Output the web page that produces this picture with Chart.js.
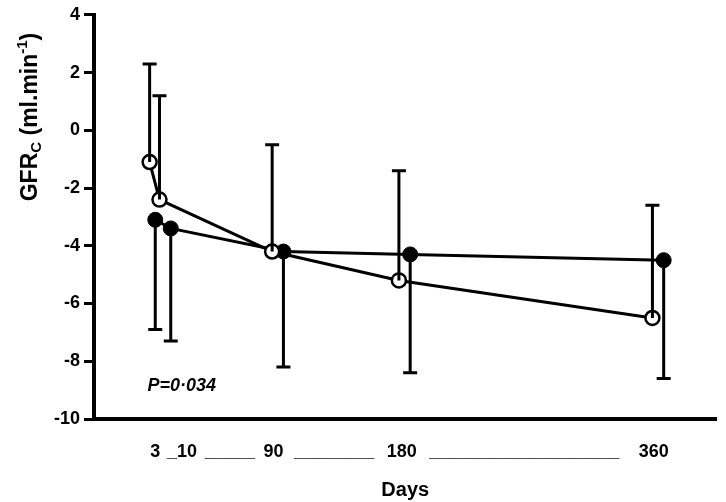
<!DOCTYPE html>
<html>
<head>
<meta charset="utf-8">
<script src="https://cdn.jsdelivr.net/npm/chart.js@4.4.0/dist/chart.umd.min.js"></script>
<style>
  html, body { margin: 0; padding: 0; background: #fff; }
</style>
</head>
<body>
<canvas id="chart" width="726" height="502"></canvas>
<script>
// values
const days = [3, 10, 90, 180, 360];
const filledDays = [7, 18, 98, 188, 368]; // the filled series is drawn a little to the right
const openMeans = [-1.1, -2.4, -4.2, -5.2, -6.5];
const openUpper = [2.3, 1.2, -0.5, -1.4, -2.6];
const filledMeans = [-3.1, -3.4, -4.2, -4.3, -4.5];
const filledLower = [-6.9, -7.3, -8.2, -8.4, -8.6];

const yTicks = [4, 2, 0, -2, -4, -6, -8, -10];
const xTickPos = [7, 26, 60, 91, 134, 182, 269, 361];
const xTickLabels = ['3', '_10', '_____', '90', '________', '180', '___________________', '360'];

const FONT = '"Liberation Sans", Arial, Helvetica, sans-serif';

const errorBars = {
  id: 'errorBars',
  afterDatasetsDraw(chart) {
    const { ctx, scales: { x, y } } = chart;
    ctx.save();
    ctx.strokeStyle = '#000';
    ctx.lineWidth = 3;
    const bar = (xv, from, to) => {
      const px = x.getPixelForValue(xv);
      const y1 = y.getPixelForValue(from);
      const y2 = y.getPixelForValue(to);
      ctx.beginPath();
      ctx.moveTo(px, y1);
      ctx.lineTo(px, y2);
      ctx.moveTo(px - 7, y2);
      ctx.lineTo(px + 7, y2);
      ctx.stroke();
    };
    days.forEach((d, i) => bar(d, openMeans[i], openUpper[i]));
    filledDays.forEach((d, i) => bar(d, filledMeans[i], filledLower[i]));
    ctx.restore();
  }
};

const yTitle = {
  id: 'yTitle',
  afterDraw(chart) {
    const ctx = chart.ctx;
    const big = 'bold 23px ' + FONT;
    const small = 'bold 15px ' + FONT;
    const parts = [
      { t: 'GFR', f: big, dy: 0 },
      { t: 'C', f: small, dy: 6 },
      { t: ' (ml.min', f: big, dy: 0 },
      { t: '-1', f: small, dy: -8 },
      { t: ')', f: big, dy: 0 }
    ];
    ctx.save();
    let total = 0;
    parts.forEach(p => { ctx.font = p.f; p.w = ctx.measureText(p.t).width; total += p.w; });
    ctx.translate(31, 117);
    ctx.rotate(-Math.PI / 2);
    ctx.textBaseline = 'middle';
    ctx.fillStyle = '#000';
    let cx = -total / 2;
    parts.forEach(p => { ctx.font = p.f; ctx.fillText(p.t, cx, p.dy); cx += p.w; });
    ctx.restore();
  }
};

const pLabel = {
  id: 'pLabel',
  afterDraw(chart) {
    const { ctx, scales: { x, y } } = chart;
    ctx.save();
    ctx.font = 'italic bold 18px ' + FONT;
    ctx.fillStyle = '#000';
    ctx.textBaseline = 'middle';
    ctx.fillText('P=0\u00b7034', x.getPixelForValue(1.5), y.getPixelForValue(-8.85));
    ctx.restore();
  }
};

new Chart(document.getElementById('chart'), {
  type: 'line',
  data: {
    datasets: [
      {
        label: 'open',
        data: days.map((d, i) => ({ x: d, y: openMeans[i] })),
        borderColor: '#000',
        borderWidth: 3,
        pointRadius: 7,
        pointBorderWidth: 2.5,
        pointBackgroundColor: '#fff',
        pointBorderColor: '#000',
        clip: false
      },
      {
        label: 'filled',
        data: filledDays.map((d, i) => ({ x: d, y: filledMeans[i] })),
        borderColor: '#000',
        borderWidth: 3,
        pointRadius: 7.5,
        pointBorderWidth: 1,
        pointBackgroundColor: '#000',
        pointBorderColor: '#000',
        clip: false
      }
    ]
  },
  options: {
    responsive: false,
    animation: false,
    layout: { padding: { top: 10, right: 4, left: 0, bottom: 0 } },
    plugins: { legend: { display: false }, tooltip: { enabled: false } },
    scales: {
      x: {
        type: 'linear',
        min: -36.5,
        max: 405.5,
        afterBuildTicks: s => { s.ticks = xTickPos.map(v => ({ value: v })); },
        afterFit: s => { s.height = 83; },
        ticks: {
          autoSkip: false,
          maxRotation: 0,
          padding: 14,
          color: '#000',
          font: { family: FONT, size: 18, weight: 'bold' },
          callback: (v, i) => xTickLabels[i]
        },
        grid: { display: false },
        border: { display: true, width: 4, color: '#000' },
        title: {
          display: true,
          text: 'Days',
          color: '#000',
          font: { family: FONT, size: 20, weight: 'bold' },
          padding: { top: 0, bottom: 0 }
        }
      },
      y: {
        min: -10,
        max: 4,
        afterBuildTicks: s => { s.ticks = yTicks.map(v => ({ value: v })); },
        afterFit: s => { s.width = 94; },
        ticks: {
          padding: 4,
          color: '#000',
          font: { family: FONT, size: 18, weight: 'bold' }
        },
        grid: { drawOnChartArea: false, drawTicks: true, tickLength: 10, lineWidth: 3, color: '#000' },
        border: { display: true, width: 4, color: '#000' }
      }
    }
  },
  plugins: [errorBars, yTitle, pLabel]
});
</script>
</body>
</html>
